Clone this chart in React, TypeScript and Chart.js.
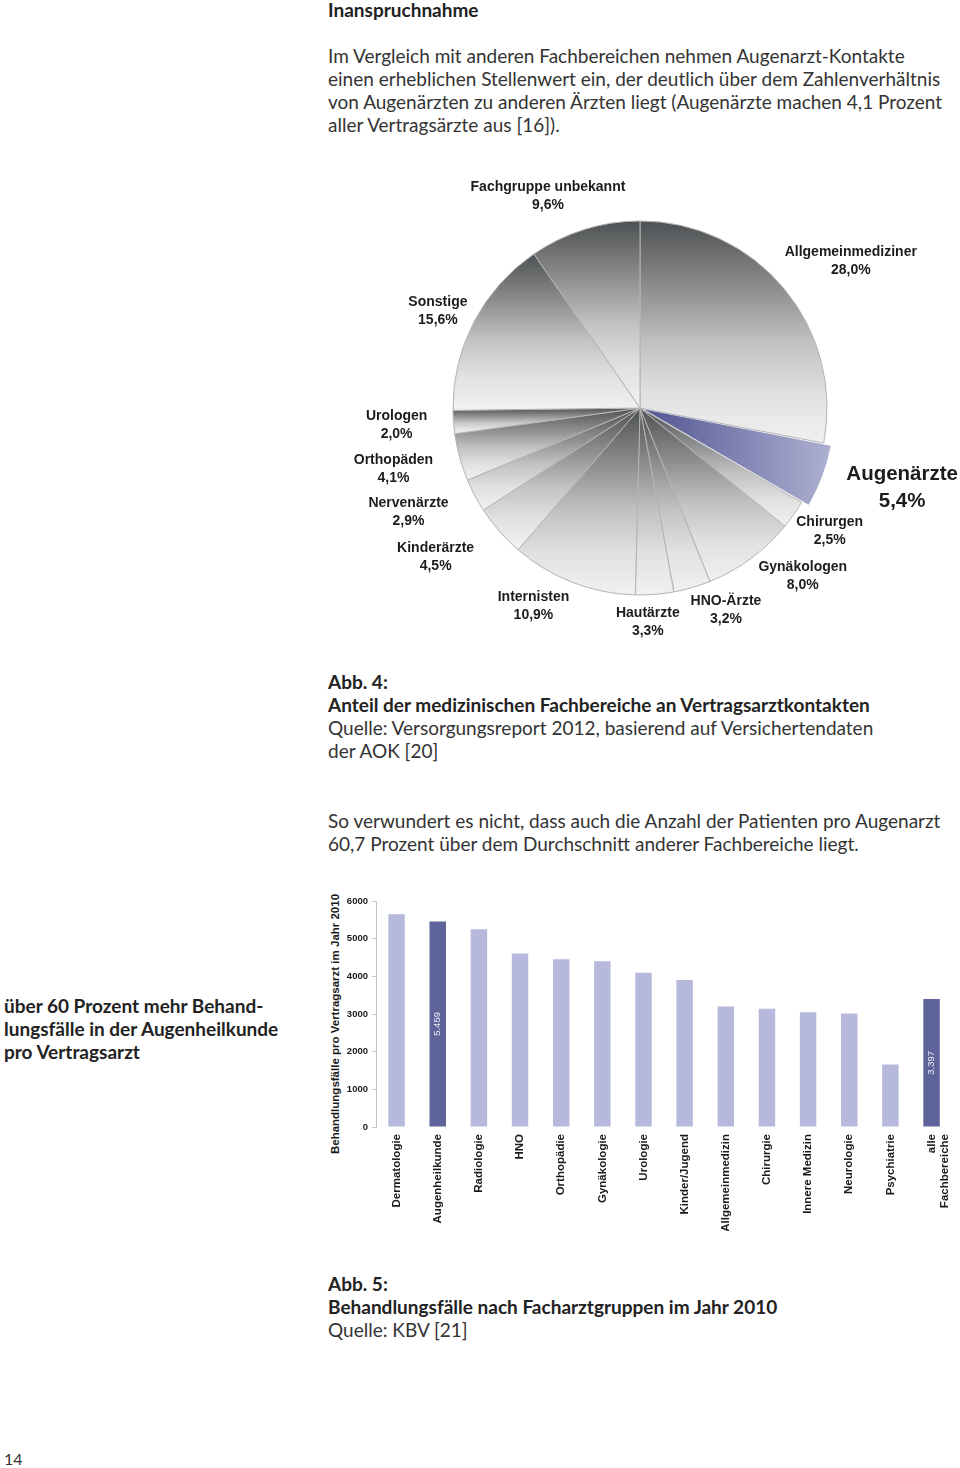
import React, { useEffect, useLayoutEffect, useRef } from 'react';
import { Chart, registerables } from 'chart.js';

Chart.register(...registerables);

// ---------- Pie chart data (Abb. 4) ----------
const pieLabels = [
  'Allgemeinmediziner',
  'Augenärzte',
  'Chirurgen',
  'Gynäkologen',
  'HNO-Ärzte',
  'Hautärzte',
  'Internisten',
  'Kinderärzte',
  'Nervenärzte',
  'Orthopäden',
  'Urologen',
  'Sonstige',
  'Fachgruppe unbekannt',
];
const pieValues = [28.0, 5.4, 2.5, 8.0, 3.2, 3.3, 10.9, 4.5, 2.9, 4.1, 2.0, 15.6, 9.6];
const pieHighlight = 'Augenärzte';

// label placement: [distance from centre in px, angle tweak in degrees]
const pieLabelPlacement: [number, number][] = [
  [257, 4.7], [274, -3.6], [226, -1.8], [234, -7.7], [220, -6.8], [214, 2.4],
  [225, 7.2], [253, 5.1], [254, 3.6], [254, 1.4], [244, 0.3], [224, -1.8], [231, -6.2],
];

// ---------- Bar chart data (Abb. 5) ----------
const barCategories: (string | string[])[] = [
  'Dermatologie',
  'Augenheilkunde',
  'Radiologie',
  'HNO',
  'Orthopädie',
  'Gynäkologie',
  'Urologie',
  'Kinder/Jugend',
  'Allgemeinmedizin',
  'Chirurgie',
  'Innere Medizin',
  'Neurologie',
  'Psychiatrie',
  ['alle', 'Fachbereiche'],
];
const barValues = [5650, 5459, 5250, 4605, 4453, 4400, 4098, 3902, 3200, 3138, 3049, 3013, 1662, 3397];
const barHighlighted = [false, true, false, false, false, false, false, false, false, false, false, false, false, true];
const yMax = 6000;
const yStep = 1000;

const LIGHT_BAR = '#b6b9dc';
const DARK_BAR = '#5e6399';
const ARIAL = '"Liberation Sans", Arial, Helvetica, sans-serif';

if (typeof document !== 'undefined' && document.body) {
  document.body.style.margin = '0';
}

function fmtDe(v: number) {
  const s = String(Math.round(v));
  return s.replace(/\B(?=(\d{3})+(?!\d))/g, '.');
}

function sectorBounds(cx: number, cy: number, r: number, a0: number, a1: number) {
  const pts: number[][] = [
    [cx, cy],
    [cx + r * Math.cos(a0), cy + r * Math.sin(a0)],
    [cx + r * Math.cos(a1), cy + r * Math.sin(a1)],
  ];
  for (let k = -4; k <= 8; k++) {
    const a = (k * Math.PI) / 2;
    if (a > a0 && a < a1) pts.push([cx + r * Math.cos(a), cy + r * Math.sin(a)]);
  }
  let minX = Infinity, maxX = -Infinity, minY = Infinity, maxY = -Infinity;
  pts.forEach(([x, y]) => {
    minX = Math.min(minX, x); maxX = Math.max(maxX, x);
    minY = Math.min(minY, y); maxY = Math.max(maxY, y);
  });
  return { minX, maxX, minY, maxY };
}

const PIE_RADIUS = 187;
const PIE_OFFSET = 18;

const pieLabelPlugin = {
  id: 'pieLabels',
  afterDatasetsDraw(chart: any) {
    const meta = chart.getDatasetMeta(0);
    const ctx = chart.ctx;
    ctx.save();
    ctx.fillStyle = '#1c1c1c';
    ctx.textAlign = 'center';
    ctx.textBaseline = 'middle';
    meta.data.forEach((el: any, i: number) => {
      const p = el.getProps(['x', 'y', 'startAngle', 'endAngle'], true);
      const [dist, tweak] = pieLabelPlacement[i];
      const mid = (p.startAngle + p.endAngle) / 2 + (tweak * Math.PI) / 180;
      const lx = p.x + dist * Math.cos(mid);
      const ly = p.y + dist * Math.sin(mid);
      const big = pieLabels[i] === pieHighlight;
      const size = big ? 20.5 : 14;
      const lh = big ? 27 : 18;
      ctx.font = `bold ${size}px ${ARIAL}`;
      ctx.fillText(pieLabels[i], lx, ly - lh / 2);
      ctx.fillText(pieValues[i].toFixed(1).replace('.', ',') + '%', lx, ly + lh / 2);
    });
    ctx.restore();
  },
};

const barValuePlugin = {
  id: 'barValues',
  afterDatasetsDraw(chart: any) {
    const meta = chart.getDatasetMeta(0);
    const ctx = chart.ctx;
    meta.data.forEach((el: any, i: number) => {
      if (!barHighlighted[i]) return;
      const p = el.getProps(['x', 'y', 'base'], true);
      ctx.save();
      ctx.translate(p.x, (p.y + p.base) / 2);
      ctx.rotate(-Math.PI / 2);
      ctx.font = `9.5px ${ARIAL}`;
      ctx.fillStyle = '#eceef8';
      ctx.textAlign = 'center';
      ctx.textBaseline = 'middle';
      ctx.fillText(fmtDe(barValues[i]), 0, 0);
      ctx.restore();
    });
  },
};

export default function App() {
  const pieRef = useRef<HTMLCanvasElement>(null);
  const barRef = useRef<HTMLCanvasElement>(null);

  useLayoutEffect(() => {
    document.body.style.margin = '0';
    document.documentElement.style.overflow = 'hidden';
  }, []);

  useEffect(() => {
    const total = pieValues.reduce((a, b) => a + b, 0);
    const offsets = pieLabels.map((l) => (l === pieHighlight ? PIE_OFFSET : 0));

    const pie = new Chart(pieRef.current!, {
      type: 'pie',
      data: {
        labels: pieLabels,
        datasets: [
          {
            data: pieValues,
            offset: offsets,
            borderColor: pieLabels.map((l) => (l === pieHighlight ? 'rgba(0,0,0,0)' : '#b3b3b3')),
            borderWidth: 1,
            backgroundColor: (c: any) => {
              const chart = c.chart;
              const area = chart.chartArea;
              if (!area || c.type !== 'data') return '#999';
              const i = c.dataIndex;
              let cum = 0;
              for (let j = 0; j < i; j++) cum += pieValues[j];
              const a0 = -Math.PI / 2 + (cum / total) * Math.PI * 2;
              const a1 = a0 + (pieValues[i] / total) * Math.PI * 2;
              const mid = (a0 + a1) / 2;
              const cx = (area.left + area.right) / 2 + offsets[i] * Math.cos(mid);
              const cy = (area.top + area.bottom) / 2 + offsets[i] * Math.sin(mid);
              const b = sectorBounds(cx, cy, PIE_RADIUS, a0, a1);
              if (pieLabels[i] === pieHighlight) {
                const g = chart.ctx.createLinearGradient(b.minX, 0, b.maxX, 0);
                g.addColorStop(0, '#5a5e98');
                g.addColorStop(1, '#b5b7d5');
                return g;
              }
              const g = chart.ctx.createLinearGradient(0, b.minY, 0, b.maxY);
              g.addColorStop(0, '#4e5153');
              g.addColorStop(0.3, '#8c8d8e');
              g.addColorStop(0.55, '#c2c2c2');
              g.addColorStop(0.78, '#e1e1e1');
              g.addColorStop(1, '#f1f1f1');
              return g;
            },
          } as any,
        ],
      },
      options: {
        animation: false,
        responsive: false,
        events: [],
        radius: PIE_RADIUS,
        layout: { padding: 0 },
        plugins: { legend: { display: false }, tooltip: { enabled: false } },
      } as any,
      plugins: [pieLabelPlugin],
    });

    const bar = new Chart(barRef.current!, {
      type: 'bar',
      data: {
        labels: barCategories as any,
        datasets: [
          {
            data: barValues,
            backgroundColor: barHighlighted.map((h) => (h ? DARK_BAR : LIGHT_BAR)),
            borderWidth: 0,
            categoryPercentage: 1,
            barPercentage: 0.4,
          },
        ],
      },
      options: {
        animation: false,
        responsive: false,
        events: [],
        layout: { padding: { top: 11, left: 0, right: 0, bottom: 0 } },
        plugins: { legend: { display: false }, tooltip: { enabled: false } },
        scales: {
          x: {
            grid: { display: false, drawTicks: false },
            border: { display: false },
            ticks: {
              autoSkip: false,
              maxRotation: 90,
              minRotation: 90,
              padding: 7,
              color: '#1a1a1a',
              font: { family: ARIAL, size: 11.5, weight: 'bold', lineHeight: 1.15 },
            },
            afterFit: (s: any) => {
              s.height = 104;
            },
          },
          y: {
            min: 0,
            max: yMax,
            ticks: {
              stepSize: yStep,
              padding: 4,
              color: '#1a1a1a',
              font: { family: ARIAL, size: 9.5, weight: 'bold' },
              callback: (v: any) => String(v),
            },
            grid: { drawOnChartArea: false, tickLength: 4, color: '#c4c4c4' },
            border: { display: true, color: '#c4c4c4', width: 1 },
            afterFit: (s: any) => {
              s.width = 56;
            },
          },
        },
      } as any,
      plugins: [barValuePlugin],
    });

    return () => {
      pie.destroy();
      bar.destroy();
    };
  }, []);

  const page: React.CSSProperties = {
    position: 'relative',
    width: 960,
    height: 1468,
    margin: 0,
    overflow: 'hidden',
    background: '#ffffff',
    fontFamily: 'Lato, "Open Sans", sans-serif',
    color: '#333333',
    fontSize: 19,
    lineHeight: '23px',
  };
  const block = (left: number, top: number): React.CSSProperties => ({
    position: 'absolute',
    left,
    top,
    whiteSpace: 'nowrap',
  });
  const bold: React.CSSProperties = { fontWeight: 700, color: '#222' };

  return (
    <div style={page}>
      <div style={{ ...block(328, -2.5), ...bold }}>Inanspruchnahme</div>
      <div style={block(328, 43.5)}>
        <div>Im Vergleich mit anderen Fachbereichen nehmen Augenarzt-Kontakte</div>
        <div>einen erheblichen Stellenwert ein, der deutlich über dem Zahlenverhältnis</div>
        <div>von Augenärzten zu anderen Ärzten liegt (Augenärzte machen 4,1 Prozent</div>
        <div>aller Vertragsärzte aus [16]).</div>
      </div>

      <canvas
        ref={pieRef}
        width={640}
        height={480}
        style={{ position: 'absolute', left: 320, top: 168, width: 640, height: 480 }}
      />

      <div style={block(328, 669.5)}>
        <div style={bold}>Abb. 4:</div>
        <div style={bold}>Anteil der medizinischen Fachbereiche an Vertragsarztkontakten</div>
        <div>Quelle: Versorgungsreport 2012, basierend auf Versichertendaten</div>
        <div>der AOK [20]</div>
      </div>

      <div style={block(328, 808.5)}>
        <div>So verwundert es nicht, dass auch die Anzahl der Patienten pro Augenarzt</div>
        <div>60,7 Prozent über dem Durchschnitt anderer Fachbereiche liegt.</div>
      </div>

      <div style={{ ...block(4, 993.5), ...bold }}>
        <div>über 60 Prozent mehr Behand-</div>
        <div>lungsfälle in der Augenheilkunde</div>
        <div>pro Vertragsarzt</div>
      </div>

      <div
        style={{
          position: 'absolute',
          left: 335,
          top: 1023.5,
          transform: 'translate(-50%, -50%) rotate(-90deg)',
          whiteSpace: 'nowrap',
          fontFamily: ARIAL,
          fontWeight: 700,
          fontSize: 11.5,
          lineHeight: '14px',
          color: '#1a1a1a',
        }}
      >
        Behandlungsfälle pro Vertragsarzt im Jahr 2010
      </div>

      <canvas
        ref={barRef}
        width={645}
        height={341}
        style={{ position: 'absolute', left: 320, top: 890, width: 645, height: 341 }}
      />

      <div style={block(328, 1271.5)}>
        <div style={bold}>Abb. 5:</div>
        <div style={bold}>Behandlungsfälle nach Facharztgruppen im Jahr 2010</div>
        <div>Quelle: KBV [21]</div>
      </div>

      <div style={{ ...block(4, 1446.5), fontSize: 16 }}>14</div>
    </div>
  );
}
